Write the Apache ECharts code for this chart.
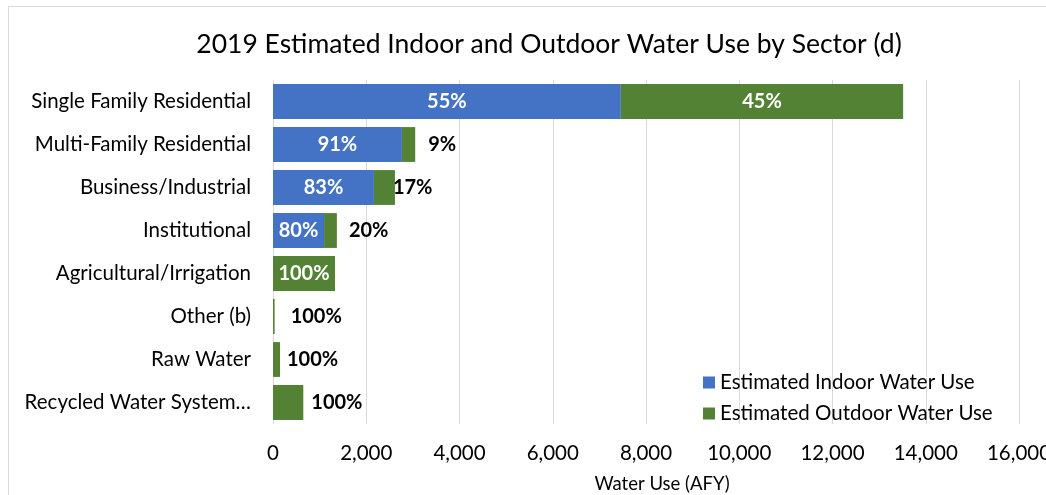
<!DOCTYPE html>
<html>
<head>
<meta charset="utf-8">
<script src="https://cdn.jsdelivr.net/npm/echarts@6/dist/echarts.min.js"></script>
<style>html,body{margin:0;padding:0;background:#fff}#c{width:1046px;height:495px}</style>
</head>
<body>
<div id="c"></div>
<script>
var categories = ["Single Family Residential", "Multi-Family Residential", "Business/Industrial", "Institutional", "Agricultural/Irrigation", "Other (b)", "Raw Water", "Recycled Water System…"];
var indoorUse = [7460, 2765, 2165, 1095, 0, 0, 0, 0];
var outdoorUse = [6055, 285, 450, 275, 1330, 35, 150, 650];
var indoorPct = ["55%", "91%", "83%", "80%", "", "", "", ""];
var outdoorPct = ["45%", "9%", "17%", "20%", "100%", "100%", "100%", "100%"];
var xTicks = [0, 2000, 4000, 6000, 8000, 10000, 12000, 14000, 16000];

// label styling (not data)
var outdoorInside = [true, false, false, false, true, false, false, false];
var outdoorGap = [0, 13, -2, 12, 0, 16, 7, 8];

var FONT = "Lato";
var chart = echarts.init(document.getElementById('c'), null, {renderer: 'canvas'});

var outdoorData = outdoorUse.map(function (v, i) {
  var lab = outdoorInside[i]
    ? {position: 'inside', color: '#fff'}
    : {position: 'right', distance: outdoorGap[i], color: '#000'};
  return {value: v, label: lab};
});

chart.setOption({
  animation: false,
  textStyle: {fontFamily: FONT},
  graphic: [{
    type: 'rect', silent: true,
    shape: {x: 8.5, y: 6.5, width: 1070, height: 520},
    style: {fill: 'none', stroke: '#d9d9d9', lineWidth: 1}
  }],
  title: {
    text: '2019 Estimated Indoor and Outdoor Water Use by Sector (d)',
    left: 544, top: 26, textAlign: 'center',
    textStyle: {fontFamily: FONT, fontSize: 26.5, fontWeight: 'normal', color: '#000'}
  },
  legend: {
    orient: 'vertical', left: 698, top: 367,
    itemWidth: 12, itemHeight: 12, itemGap: 10,
    icon: 'rect',
    textStyle: {fontFamily: FONT, fontSize: 20.5, color: '#000'},
    data: ['Estimated Indoor Water Use', 'Estimated Outdoor Water Use']
  },
  grid: {left: 273, right: 27, top: 80, bottom: 71, containLabel: false, outerBoundsMode: 'none'},
  xAxis: {
    type: 'value', min: xTicks[0], max: xTicks[xTicks.length - 1], interval: xTicks[1] - xTicks[0],
    name: 'Water Use (AFY)', nameLocation: 'middle', nameGap: 51,
    nameTextStyle: {fontFamily: FONT, fontSize: 18.5, color: '#000', padding: [0, 0, 0, 32]},
    axisLine: {show: false}, axisTick: {show: false},
    axisLabel: {fontFamily: FONT, fontSize: 20.5, color: '#000', margin: 19, alignMinLabel: 'center', alignMaxLabel: 'center'},
    splitLine: {show: true, lineStyle: {color: '#d9d9d9', width: 1}}
  },
  yAxis: {
    type: 'category', inverse: true, data: categories,
    axisLine: {show: false}, axisTick: {show: false},
    axisLabel: {fontFamily: FONT, fontSize: 20.5, color: '#000', margin: 22}
  },
  series: [{
    name: 'Estimated Indoor Water Use', type: 'bar', stack: 'total',
    barCategoryGap: '19%',
    itemStyle: {color: '#4472C4'},
    label: {
      show: true, position: 'inside', color: '#fff', fontFamily: FONT, fontSize: 20, fontWeight: 'bold',
      formatter: function (p) { return indoorPct[p.dataIndex]; }
    },
    data: indoorUse
  }, {
    name: 'Estimated Outdoor Water Use', type: 'bar', stack: 'total',
    barCategoryGap: '19%',
    itemStyle: {color: '#548235'},
    label: {
      show: true, fontFamily: FONT, fontSize: 20, fontWeight: 'bold',
      formatter: function (p) { return outdoorPct[p.dataIndex]; }
    },
    data: outdoorData
  }]
});
</script>
</body>
</html>
